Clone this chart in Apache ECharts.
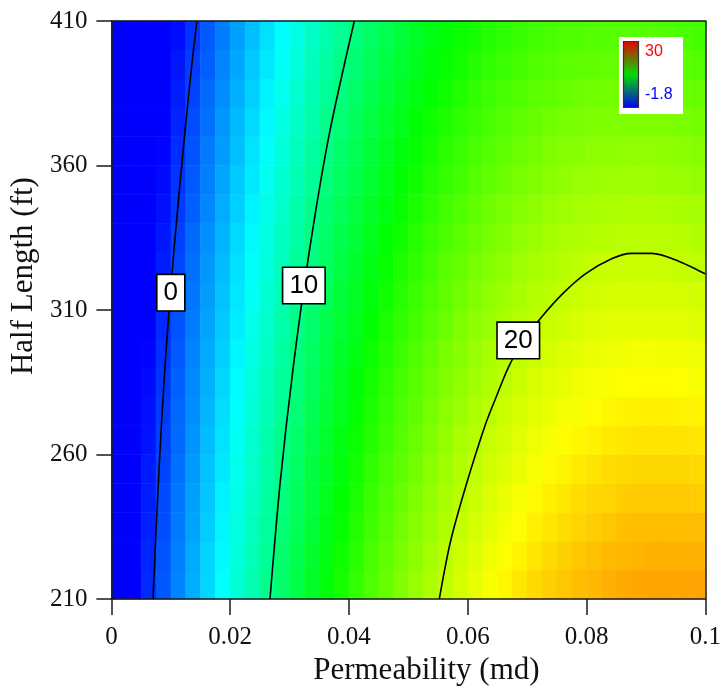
<!DOCTYPE html>
<html><head><meta charset="utf-8">
<script src="https://cdn.jsdelivr.net/npm/echarts@6/dist/echarts.min.js"></script>
<style>html,body{margin:0;padding:0;background:#fff}#c{width:724px;height:691px}</style>
</head><body><div id="c"></div>
<script>
// Column centres (permeability, md) and row centres (half length, ft) of the colour map
const permCenters = [0.00125,0.00375,0.00625,0.00875,0.01125,0.01375,0.01625,0.01875,0.02125,0.02375,
  0.02625,0.02875,0.03125,0.03375,0.03625,0.03875,0.04125,0.04375,0.04625,0.04875,
  0.05125,0.05375,0.05625,0.05875,0.06125,0.06375,0.06625,0.06875,0.07125,0.07375,
  0.07625,0.07875,0.08125,0.08375,0.08625,0.08875,0.09125,0.09375,0.09625,0.09875];
const lengthCenters = [215,225,235,245,255,265,275,285,295,305,315,325,335,345,355,365,375,385,395,405];

// Estimated surface values, one row per half length (bottom to top)
const values = [
  [-3.4,-1.9,-0.5,0.9,2.3,3.6,4.9,6.2,7.4,8.6,9.7,10.8,11.9,12.9,13.8,14.8,15.7,16.5,17.3,18.1,18.8,19.5,20.1,20.7,21.3,21.8,22.3,22.8,23.2,23.5,23.8,24.1,24.3,24.5,24.7,24.8,24.9,24.9,24.9,24.9],
  [-3.6,-2.1,-0.6,0.8,2.2,3.5,4.8,6.0,7.2,8.4,9.5,10.6,11.7,12.7,13.6,14.5,15.4,16.3,17.1,17.8,18.5,19.2,19.9,20.5,21.0,21.5,22.0,22.4,22.8,23.2,23.5,23.8,24.0,24.2,24.3,24.4,24.5,24.5,24.5,24.5],
  [-3.7,-2.2,-0.8,0.6,2.0,3.3,4.6,5.9,7.1,8.2,9.3,10.4,11.4,12.4,13.4,14.3,15.2,16.0,16.8,17.6,18.3,18.9,19.6,20.2,20.7,21.2,21.7,22.1,22.5,22.8,23.1,23.4,23.6,23.8,24.0,24.1,24.1,24.1,24.1,24.1],
  [-3.8,-2.3,-0.9,0.5,1.9,3.2,4.4,5.7,6.9,8.0,9.1,10.2,11.2,12.2,13.2,14.1,14.9,15.8,16.5,17.3,18.0,18.7,19.3,19.9,20.4,20.9,21.4,21.8,22.2,22.5,22.8,23.1,23.3,23.4,23.6,23.7,23.7,23.7,23.7,23.6],
  [-3.9,-2.5,-1.0,0.3,1.7,3.0,4.3,5.5,6.7,7.8,8.9,10.0,11.0,12.0,12.9,13.8,14.7,15.5,16.3,17.0,17.7,18.4,19.0,19.6,20.1,20.6,21.0,21.4,21.8,22.2,22.4,22.7,22.9,23.1,23.2,23.3,23.3,23.3,23.3,23.2],
  [-4.1,-2.6,-1.2,0.2,1.5,2.8,4.1,5.3,6.5,7.6,8.7,9.8,10.8,11.8,12.7,13.6,14.4,15.2,16.0,16.7,17.4,18.1,18.7,19.3,19.8,20.3,20.7,21.1,21.5,21.8,22.1,22.3,22.5,22.7,22.8,22.9,22.9,22.9,22.9,22.8],
  [-4.2,-2.8,-1.3,0.0,1.4,2.6,3.9,5.1,6.3,7.4,8.5,9.5,10.5,11.5,12.4,13.3,14.2,15.0,15.7,16.5,17.1,17.8,18.4,18.9,19.5,19.9,20.4,20.8,21.1,21.4,21.7,21.9,22.1,22.3,22.4,22.5,22.5,22.5,22.4,22.4],
  [-4.4,-2.9,-1.5,-0.1,1.2,2.5,3.7,4.9,6.1,7.2,8.3,9.3,10.3,11.3,12.2,13.1,13.9,14.7,15.5,16.2,16.8,17.5,18.1,18.6,19.1,19.6,20.0,20.4,20.8,21.1,21.3,21.6,21.8,21.9,22.0,22.1,22.1,22.1,22.0,21.9],
  [-4.5,-3.1,-1.7,-0.3,1.0,2.3,3.5,4.7,5.9,7.0,8.0,9.1,10.1,11.0,11.9,12.8,13.6,14.4,15.2,15.9,16.5,17.2,17.8,18.3,18.8,19.3,19.7,20.1,20.4,20.7,21.0,21.2,21.4,21.5,21.6,21.7,21.7,21.6,21.6,21.5],
  [-4.7,-3.2,-1.8,-0.5,0.8,2.1,3.3,4.5,5.6,6.7,7.8,8.8,9.8,10.8,11.7,12.5,13.3,14.1,14.9,15.6,16.2,16.8,17.4,18.0,18.5,18.9,19.3,19.7,20.0,20.3,20.6,20.8,21.0,21.1,21.2,21.2,21.2,21.2,21.1,21.0],
  [-4.8,-3.4,-2.0,-0.7,0.6,1.9,3.1,4.3,5.4,6.5,7.6,8.6,9.6,10.5,11.4,12.3,13.1,13.8,14.6,15.3,15.9,16.5,17.1,17.6,18.1,18.6,19.0,19.3,19.7,19.9,20.2,20.4,20.6,20.7,20.8,20.8,20.8,20.8,20.7,20.6],
  [-5.0,-3.6,-2.2,-0.9,0.4,1.7,2.9,4.1,5.2,6.3,7.3,8.3,9.3,10.2,11.1,12.0,12.8,13.5,14.3,15.0,15.6,16.2,16.8,17.3,17.8,18.2,18.6,19.0,19.3,19.6,19.8,20.0,20.2,20.3,20.3,20.4,20.4,20.3,20.2,20.1],
  [-5.2,-3.8,-2.4,-1.1,0.2,1.5,2.7,3.8,5.0,6.0,7.1,8.1,9.0,10.0,10.9,11.7,12.5,13.2,14.0,14.6,15.3,15.9,16.4,16.9,17.4,17.8,18.2,18.6,18.9,19.2,19.4,19.6,19.7,19.8,19.9,19.9,19.9,19.9,19.8,19.6],
  [-5.4,-4.0,-2.6,-1.3,0.0,1.2,2.4,3.6,4.7,5.8,6.8,7.8,8.8,9.7,10.6,11.4,12.2,12.9,13.6,14.3,14.9,15.5,16.1,16.6,17.1,17.5,17.9,18.2,18.5,18.8,19.0,19.2,19.3,19.4,19.5,19.5,19.5,19.4,19.3,19.2],
  [-5.5,-4.1,-2.8,-1.5,-0.2,1.0,2.2,3.4,4.5,5.5,6.6,7.6,8.5,9.4,10.3,11.1,11.9,12.6,13.3,14.0,14.6,15.2,15.7,16.2,16.7,17.1,17.5,17.8,18.1,18.4,18.6,18.8,18.9,19.0,19.0,19.1,19.0,18.9,18.8,18.7],
  [-5.7,-4.3,-3.0,-1.7,-0.4,0.8,2.0,3.1,4.2,5.3,6.3,7.3,8.2,9.1,10.0,10.8,11.6,12.3,13.0,13.7,14.3,14.8,15.4,15.9,16.3,16.7,17.1,17.4,17.7,18.0,18.2,18.3,18.5,18.5,18.6,18.6,18.6,18.5,18.4,18.2],
  [-5.9,-4.5,-3.2,-1.9,-0.7,0.6,1.7,2.9,4.0,5.0,6.0,7.0,7.9,8.8,9.7,10.5,11.3,12.0,12.7,13.3,13.9,14.5,15.0,15.5,15.9,16.3,16.7,17.0,17.3,17.6,17.8,17.9,18.0,18.1,18.1,18.1,18.1,18.0,17.9,17.7],
  [-6.1,-4.8,-3.4,-2.1,-0.9,0.3,1.5,2.6,3.7,4.7,5.8,6.7,7.6,8.5,9.4,10.2,10.9,11.7,12.3,13.0,13.6,14.1,14.6,15.1,15.6,16.0,16.3,16.6,16.9,17.1,17.3,17.5,17.6,17.7,17.7,17.7,17.6,17.5,17.4,17.2],
  [-6.3,-5.0,-3.6,-2.4,-1.1,0.1,1.2,2.4,3.4,4.5,5.5,6.4,7.3,8.2,9.1,9.9,10.6,11.3,12.0,12.6,13.2,13.8,14.3,14.7,15.2,15.6,15.9,16.2,16.5,16.7,16.9,17.0,17.1,17.2,17.2,17.2,17.1,17.0,16.9,16.7],
  [-6.5,-5.2,-3.9,-2.6,-1.4,-0.2,1.0,2.1,3.2,4.2,5.2,6.1,7.0,7.9,8.7,9.5,10.3,11.0,11.6,12.3,12.9,13.4,13.9,14.4,14.8,15.2,15.5,15.8,16.1,16.3,16.5,16.6,16.7,16.7,16.8,16.7,16.7,16.6,16.4,16.2]
];

// Contour lines: [permeability, half length]
const contour0 = [[0.0070,210],[0.0079,250],[0.0090,290],[0.0105,330],[0.0123,370],[0.0136,396],[0.0144,410]];
const contour10 = [[0.0267,210],[0.0284,250],[0.0306,290],[0.0333,330],[0.0366,370],[0.0409,410]];
const contour20 = [[0.0552,210],[0.0571,230],[0.0598,250],[0.0629,270],[0.0648,280],[0.0668,290],[0.0692,299],
  [0.0724,307.5],[0.0759,315.5],[0.0798,322.5],[0.0843,327.8],[0.0876,329.6],[0.0910,329.6],[0.0955,326.9],[0.1,322.5]];
const contourLabels = [
  {name:'0', value:[0.0100,316]},
  {name:'10', value:[0.0324,318.5]},
  {name:'20', value:[0.0685,299.5]}
];

const xTicks = [0,0.02,0.04,0.06,0.08,0.1];
const yTicks = [210,260,310,360,410];
const scaleMin = -1.8, scaleMax = 30;

const heatData = [];
values.forEach((row, j) => row.forEach((v, i) => heatData.push([i, j, v])));

const chart = echarts.init(document.getElementById('c'), null, {renderer:'canvas'});
const frame = {show:true, onZero:false, lineStyle:{color:'#1a1a1a', width:1.5}};
const serif = 'Liberation Serif';
const step = (scaleMax - scaleMin) / 4;

chart.setOption({
  backgroundColor:'#fff',
  animation:false,
  grid:{left:111, top:21, width:596, height:579, containLabel:false},
  visualMap:{show:false, type:'continuous', seriesIndex:0, min:scaleMin - step, max:scaleMax,
    inRange:{color:['#0000ff','#0000ff','#00ffff','#00ff00','#ffff00','#ff0000']}},
  xAxis:[
    {type:'category', data:permCenters.map(String), position:'top', boundaryGap:true,
      axisLine:frame, axisTick:{show:false}, axisLabel:{show:false}, splitLine:{show:false}, z:10},
    {type:'value', min:xTicks[0], max:xTicks[xTicks.length-1], interval:xTicks[1]-xTicks[0], position:'bottom',
      axisLine:frame, axisTick:{show:true, inside:false, length:16, lineStyle:{color:'#1a1a1a', width:1.5}},
      axisLabel:{fontFamily:serif, fontSize:25, color:'#111', margin:26},
      splitLine:{show:false},
      name:'Permeability (md)', nameLocation:'middle', nameGap:52,
      nameTextStyle:{fontFamily:serif, fontSize:31, color:'#111', padding:[0,0,0,36]}, z:10}
  ],
  yAxis:[
    {type:'category', data:lengthCenters.map(String), position:'right', boundaryGap:true,
      axisLine:frame, axisTick:{show:false}, axisLabel:{show:false}, splitLine:{show:false}, z:10},
    {type:'value', min:yTicks[0], max:yTicks[yTicks.length-1], interval:yTicks[1]-yTicks[0], position:'left',
      axisLine:frame, axisTick:{show:true, inside:false, length:15, lineStyle:{color:'#1a1a1a', width:1.5}},
      axisLabel:{fontFamily:serif, fontSize:25, color:'#111', margin:24},
      splitLine:{show:false},
      name:'Half Length (ft)', nameLocation:'middle', nameGap:68,
      nameTextStyle:{fontFamily:serif, fontSize:31, color:'#111', padding:[0,0,0,68]}, z:10}
  ],
  series:[
    {type:'heatmap', xAxisIndex:0, yAxisIndex:0, data:heatData, progressive:0, silent:true,
      emphasis:{disabled:true}, itemStyle:{borderWidth:0}},
    {type:'line', xAxisIndex:1, yAxisIndex:1, data:contour0, smooth:0.3, symbol:'none', silent:true,
      lineStyle:{color:'#000', width:1.6}, z:3},
    {type:'line', xAxisIndex:1, yAxisIndex:1, data:contour10, smooth:0.3, symbol:'none', silent:true,
      lineStyle:{color:'#000', width:1.6}, z:3},
    {type:'line', xAxisIndex:1, yAxisIndex:1, data:contour20, smooth:0.3, symbol:'none', silent:true,
      lineStyle:{color:'#000', width:1.6}, z:3},
    {type:'scatter', xAxisIndex:1, yAxisIndex:1, data:contourLabels, symbol:'rect', symbolSize:1, silent:true,
      itemStyle:{color:'rgba(0,0,0,0)', opacity:1}, z:5,
      label:{show:true, position:'inside', formatter:'{b}', fontFamily:'Liberation Sans', fontSize:26,
        lineHeight:28, color:'#000', opacity:1, backgroundColor:'#ffffff', borderColor:'#000', borderWidth:1.6, padding:[4,6,3,6]}}
  ],
  graphic:[
    {type:'rect', shape:{x:619, y:37, width:64, height:77}, style:{fill:'#fff'}, z:20},
    {type:'rect', shape:{x:623.5, y:41.5, width:15, height:66},
      style:{fill:new echarts.graphic.LinearGradient(0,0,0,1,[{offset:0,color:'#e80000'},{offset:0.5,color:'#00dd00'},{offset:1,color:'#0000ee'}]),
        stroke:'#333', lineWidth:1.2}, z:21},
    {type:'text', x:645, y:52, style:{text:String(scaleMax), fill:'#ff0000', fontSize:16, fontFamily:'Liberation Sans', verticalAlign:'middle'}, z:21},
    {type:'text', x:645, y:95, style:{text:String(scaleMin), fill:'#0000ff', fontSize:16, fontFamily:'Liberation Sans', verticalAlign:'middle'}, z:21}
  ]
});
</script></body></html>
